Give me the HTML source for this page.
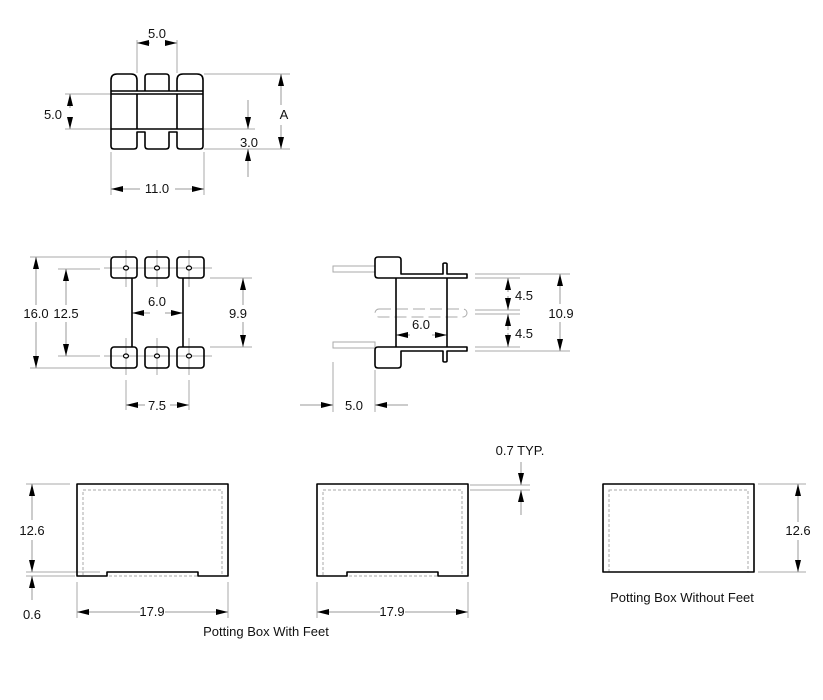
<!DOCTYPE html>
<html><head><meta charset="utf-8"><style>
html,body{margin:0;padding:0;background:#fff;width:823px;height:700px;overflow:hidden}
text{font-family:"Liberation Sans",Arial,sans-serif;font-size:13px;fill:#111}
</style></head><body>
<svg width="823" height="700" viewBox="0 0 823 700" xmlns="http://www.w3.org/2000/svg">
<defs>
<marker id="a" viewBox="0 0 12 6" refX="12" refY="3" markerWidth="12" markerHeight="6" markerUnits="userSpaceOnUse" orient="auto"><path d="M0,0 L12,3 L0,6 z" fill="#000"/></marker>
</defs>
<g stroke="#aaa" stroke-width="1" fill="none">
<line x1="137" y1="40" x2="137" y2="73"/><line x1="177" y1="40" x2="177" y2="73"/>
<line x1="65" y1="94" x2="111" y2="94"/><line x1="65" y1="129" x2="111" y2="129"/>
<line x1="204" y1="74" x2="290" y2="74"/><line x1="204" y1="149" x2="290" y2="149"/>
<line x1="204" y1="129" x2="255" y2="129"/>
<line x1="111" y1="152" x2="111" y2="195"/><line x1="204" y1="152" x2="204" y2="195"/>
<line x1="30" y1="257" x2="111" y2="257"/><line x1="30" y1="368" x2="111" y2="368"/>
<line x1="58" y1="269" x2="100" y2="269"/><line x1="58" y1="356" x2="100" y2="356"/>
<line x1="210" y1="278" x2="252" y2="278"/><line x1="210" y1="347" x2="252" y2="347"/>
<line x1="126" y1="250" x2="126" y2="287"/><line x1="157" y1="250" x2="157" y2="287"/><line x1="189" y1="250" x2="189" y2="287"/>
<line x1="126" y1="338" x2="126" y2="375"/><line x1="157" y1="338" x2="157" y2="375"/><line x1="189" y1="338" x2="189" y2="375"/>
<line x1="104" y1="268" x2="212" y2="268"/><line x1="104" y1="356" x2="212" y2="356"/>
<line x1="126" y1="380" x2="126" y2="410"/><line x1="189" y1="380" x2="189" y2="410"/>
<rect x="333" y="266" width="42" height="6"/><rect x="333" y="342" width="42" height="6"/>
<line x1="475" y1="274" x2="570" y2="274"/><line x1="475" y1="351" x2="570" y2="351"/>
<line x1="475" y1="278" x2="520" y2="278"/><line x1="475" y1="347" x2="520" y2="347"/>
<line x1="475" y1="310" x2="520" y2="310"/><line x1="475" y1="314" x2="520" y2="314"/>
<line x1="333" y1="362" x2="333" y2="412"/><line x1="375" y1="370" x2="375" y2="412"/>
<rect x="375" y="309" width="92" height="8" rx="4" stroke-dasharray="12,5"/>
<line x1="26" y1="484" x2="70" y2="484"/><line x1="26" y1="572" x2="100" y2="572"/><line x1="26" y1="576" x2="75" y2="576"/>
<line x1="77" y1="582" x2="77" y2="618"/><line x1="228" y1="582" x2="228" y2="618"/>
<line x1="317" y1="582" x2="317" y2="618"/><line x1="468" y1="582" x2="468" y2="618"/>
<line x1="470" y1="485" x2="530" y2="485"/><line x1="470" y1="490" x2="530" y2="490"/>
<line x1="758" y1="484" x2="806" y2="484"/><line x1="758" y1="572" x2="806" y2="572"/>
</g>
<g stroke="#aaa" stroke-width="1" fill="none" stroke-dasharray="3,2">
<rect x="83" y="490" width="139" height="86"/>
<rect x="323" y="490" width="139" height="86"/>
<rect x="609" y="490" width="139" height="82"/>
</g>
<g stroke="#999" stroke-width="1" marker-end="url(#a)">
<line x1="150" y1="43" x2="137" y2="43"/><line x1="165" y1="43" x2="177" y2="43"/>
<line x1="70" y1="108" x2="70" y2="94"/><line x1="70" y1="120" x2="70" y2="129"/>
<line x1="281" y1="105" x2="281" y2="74"/><line x1="281" y1="125" x2="281" y2="149"/>
<line x1="248" y1="100" x2="248" y2="129"/><line x1="248" y1="177" x2="248" y2="149"/>
<line x1="140" y1="189" x2="111" y2="189"/><line x1="175" y1="189" x2="204" y2="189"/>
<line x1="36" y1="305" x2="36" y2="257"/><line x1="36" y1="322" x2="36" y2="368"/>
<line x1="66" y1="305" x2="66" y2="269"/><line x1="66" y1="322" x2="66" y2="356"/>
<line x1="243" y1="305" x2="243" y2="278"/><line x1="243" y1="322" x2="243" y2="347"/>
<line x1="150" y1="313" x2="132" y2="313"/><line x1="165" y1="313" x2="183" y2="313"/>
<line x1="145" y1="405" x2="126" y2="405"/><line x1="170" y1="405" x2="189" y2="405"/>
<line x1="410" y1="335" x2="396" y2="335"/><line x1="432" y1="335" x2="447" y2="335"/>
<line x1="508" y1="292" x2="508" y2="278"/><line x1="508" y1="296" x2="508" y2="310"/>
<line x1="508" y1="330" x2="508" y2="314"/><line x1="508" y1="333" x2="508" y2="347"/>
<line x1="560" y1="304" x2="560" y2="274"/><line x1="560" y1="322" x2="560" y2="351"/>
<line x1="300" y1="405" x2="333" y2="405"/><line x1="408" y1="405" x2="375" y2="405"/>
<line x1="32" y1="520" x2="32" y2="484"/><line x1="32" y1="540" x2="32" y2="572"/>
<line x1="32" y1="600" x2="32" y2="576"/>
<line x1="140" y1="612" x2="77" y2="612"/><line x1="165" y1="612" x2="228" y2="612"/>
<line x1="380" y1="612" x2="317" y2="612"/><line x1="405" y1="612" x2="468" y2="612"/>
<line x1="521" y1="462" x2="521" y2="485"/><line x1="521" y1="515" x2="521" y2="490"/>
<line x1="798" y1="522" x2="798" y2="484"/><line x1="798" y1="540" x2="798" y2="572"/>
</g>
<g stroke="#000" stroke-width="1.6" fill="none" stroke-linejoin="round">
<path d="M111,91 V80 Q111,74 117,74 H131 Q137,74 137,80 V91"/>
<path d="M145,91 V77 Q145,74 148,74 H166 Q169,74 169,77 V91"/>
<path d="M177,91 V80 Q177,74 183,74 H197 Q203,74 203,80 V91"/>
<line x1="111" y1="91" x2="203" y2="91"/><line x1="111" y1="94" x2="203" y2="94"/>
<path d="M111,91 V146 Q111,149 114,149 H134 Q137,149 137,146 V132 H145 V146 Q145,149 148,149 H166 Q169,149 169,146 V132 H177 V146 Q177,149 180,149 H200 Q203,149 203,146 V91"/>
<line x1="111" y1="129" x2="203" y2="129"/>
<line x1="137" y1="94" x2="137" y2="129"/><line x1="177" y1="94" x2="177" y2="129"/>
<rect x="111" y="257" width="26" height="21" rx="3"/><rect x="145" y="257" width="24" height="21" rx="3"/><rect x="177" y="257" width="27" height="21" rx="3"/>
<rect x="111" y="347" width="26" height="21" rx="3"/><rect x="145" y="347" width="24" height="21" rx="3"/><rect x="177" y="347" width="27" height="21" rx="3"/>
<line x1="132" y1="278" x2="132" y2="347"/><line x1="183" y1="278" x2="183" y2="347"/>
<path d="M401,274 V260 Q401,257 398,257 H378 Q375,257 375,260 V275 Q375,278 378,278 H467 V274 H447 V264 Q447,263 445,263 Q443,263 443,264 V274 Z"/>
<path d="M401,351 V365 Q401,368 398,368 H378 Q375,368 375,365 V350 Q375,347 378,347 H467 V351 H447 V361 Q447,362 445,362 Q443,362 443,361 V351 Z"/>
<line x1="396" y1="278" x2="396" y2="347"/><line x1="447" y1="278" x2="447" y2="347"/>
<path d="M77,484 H228 V576 H198 V572 H107 V576 H77 Z"/>
<path d="M317,484 H468 V576 H438 V572 H347 V576 H317 Z"/>
<rect x="603" y="484" width="151" height="88"/>
</g>
<g stroke="#000" stroke-width="1.2" fill="#fff">
<ellipse cx="126" cy="268" rx="2.5" ry="2"/><ellipse cx="157" cy="268" rx="2.5" ry="2"/><ellipse cx="189" cy="268" rx="2.5" ry="2"/>
<ellipse cx="126" cy="356" rx="2.5" ry="2"/><ellipse cx="157" cy="356" rx="2.5" ry="2"/><ellipse cx="189" cy="356" rx="2.5" ry="2"/>
</g>
<g text-anchor="middle">
<text x="157" y="38">5.0</text>
<text x="53" y="119">5.0</text>
<text x="284" y="119">A</text>
<text x="249" y="147">3.0</text>
<text x="157" y="193">11.0</text>
<text x="36" y="318">16.0</text>
<text x="66" y="318">12.5</text>
<text x="238" y="318">9.9</text>
<text x="157" y="306">6.0</text>
<text x="157" y="410">7.5</text>
<text x="421" y="329">6.0</text>
<text x="524" y="300">4.5</text>
<text x="524" y="338">4.5</text>
<text x="561" y="318">10.9</text>
<text x="354" y="410">5.0</text>
<text x="32" y="535">12.6</text>
<text x="32" y="619">0.6</text>
<text x="152" y="616">17.9</text>
<text x="392" y="616">17.9</text>
<text x="520" y="455">0.7 TYP.</text>
<text x="798" y="535">12.6</text>
<text x="266" y="636">Potting Box With Feet</text>
<text x="682" y="602">Potting Box Without Feet</text>
</g>
</svg>
</body></html>
